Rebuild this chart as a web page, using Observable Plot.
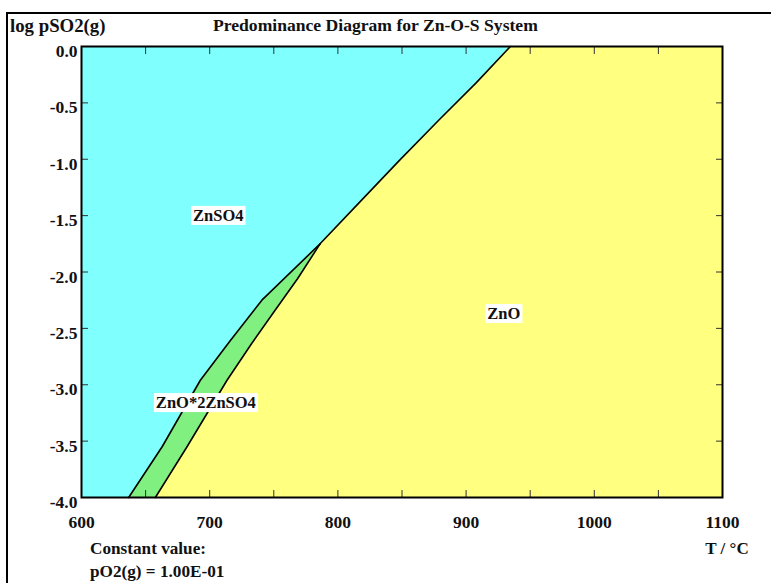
<!DOCTYPE html>
<html><head><meta charset="utf-8">
<script src="https://cdn.jsdelivr.net/npm/d3@7"></script>
<script src="https://cdn.jsdelivr.net/npm/@observablehq/plot@0.6"></script>
<style>
body{margin:0;background:#fff;}
#wrap{position:relative;width:771px;height:583px;overflow:hidden;font-family:"Liberation Serif","Times New Roman",serif;font-weight:bold;font-size:17px;color:#111;}
#border{position:absolute;left:6px;top:12px;width:900px;height:700px;border-top:2px solid #000;border-left:2px solid #000;}
.t{position:absolute;white-space:nowrap;line-height:1;}
#chart{position:absolute;left:0;top:0;}
</style></head><body>
<div id="wrap">
<div id="border"></div>
<div id="chart"></div>
<div class="t" style="left:213px;top:17px;font-size:17.6px">Predominance Diagram for Zn-O-S System</div>
<div class="t" style="left:10px;top:17px;font-size:18.8px">log pSO2(g)</div>
<div class="t" style="left:90px;top:540px;font-size:17.2px">Constant value:</div>
<div class="t" style="left:90px;top:563px;font-size:17.2px">pO2(g) = 1.00E-01</div>
<div class="t" style="left:727px;top:540px;transform:translateX(-50%)">T / °C</div>
</div>
<script>
// Axis domains and ticks
const xDomain = [600, 1100];
const yDomain = [-4, 0];
const xMajorTicks = [600, 700, 800, 900, 1000, 1100];
const xMinorTicks = [600, 650, 700, 750, 800, 850, 900, 950, 1000, 1050, 1100];
const yTicks = [0, -0.5, -1, -1.5, -2, -2.5, -3, -3.5, -4];

// Boundary ZnSO4 / ZnO*2ZnSO4
const T_upper = [636.8, 662.9, 692.7, 716.0, 740.7, 786.1];
const L_upper = [-4.0, -3.55, -2.96, -2.61, -2.25, -1.75];
// Boundary ZnO*2ZnSO4 / ZnO
const T_lower = [657.6, 682.3, 713.5, 733.0, 751.0, 768.5, 786.1];
const L_lower = [-4.0, -3.55, -2.96, -2.63, -2.34, -2.06, -1.75];
// Boundary ZnSO4 / ZnO
const T_main = [786.1, 817.0, 848.0, 879.0, 908.0, 934.5];
const L_main = [-1.75, -1.38, -1.01, -0.65, -0.32, 0.0];

// Region labels
const labelText = ["ZnSO4", "ZnO", "ZnO*2ZnSO4"];
const labelT = [706.7, 929.4, 697.0];
const labelL = [-1.50, -2.37, -3.16];

const colors = {ZnSO4: "#80FFFF", ZnO: "#FFFF80", mixed: "#80F080"};

const pts = (T, L) => T.map((t, i) => ({T: t, L: L[i]}));
const upper = pts(T_upper, L_upper);
const lower = pts(T_lower, L_lower);
const main = pts(T_main, L_main);
const yellowEdge = lower.concat(main.slice(1));
const labels = labelText.map((s, i) => ({s, T: labelT[i], L: labelL[i]}));

const tickStyle = {stroke: "#333", strokeWidth: 1, fill: "none", label: null};

const chart = Plot.plot({
  width: 771, height: 583,
  marginLeft: 81, marginRight: 49, marginTop: 46, marginBottom: 86,
  style: {fontFamily: "'Liberation Serif', 'Times New Roman', serif", fontSize: "17.5px", fontWeight: "bold", color: "#111", background: "transparent"},
  x: {domain: xDomain},
  y: {domain: yDomain},
  marks: [
    Plot.frame({fill: colors.ZnSO4}),
    Plot.areaX(upper, {y: "L", x1: "T", x2: xDomain[1], fill: colors.mixed}),
    Plot.areaX(yellowEdge, {y: "L", x1: "T", x2: xDomain[1], fill: colors.ZnO}),
    Plot.line(upper, {x: "T", y: "L", stroke: "#000", strokeWidth: 1.6}),
    Plot.line(lower, {x: "T", y: "L", stroke: "#000", strokeWidth: 1.6}),
    Plot.line(main, {x: "T", y: "L", stroke: "#000", strokeWidth: 1.6}),
    Plot.axisX(xMinorTicks, {anchor: "bottom", tickSize: -7, ...tickStyle}),
    Plot.axisX(xMinorTicks, {anchor: "top", tickSize: -7, ...tickStyle}),
    Plot.axisY(yTicks, {anchor: "left", tickSize: -7, ...tickStyle}),
    Plot.axisY(yTicks, {anchor: "right", tickSize: -7, ...tickStyle}),
    Plot.axisX(xMajorTicks, {anchor: "bottom", tickSize: 0, tickPadding: 18, tickFormat: d => String(d), label: null, fill: "#111"}),
    Plot.axisY(yTicks, {anchor: "left", tickSize: 0, tickPadding: 4, dy: 5, tickFormat: d => d.toFixed(1), label: null, fill: "#111"}),
    Plot.frame({stroke: "#000", strokeWidth: 2}),
    Plot.text(labels, {x: "T", y: "L", text: "s", fill: "#111", fontSize: 16.5, fontWeight: "bold"})
  ]
});
document.getElementById("chart").appendChild(chart);

// white background boxes behind region labels
const svgNS = "http://www.w3.org/2000/svg";
chart.querySelectorAll('g[aria-label="text"] text').forEach(t => {
  const b = t.getBBox();
  const r = document.createElementNS(svgNS, "rect");
  r.setAttribute("x", b.x - 2);
  r.setAttribute("y", b.y);
  r.setAttribute("width", b.width + 4);
  r.setAttribute("height", b.height);
  r.setAttribute("fill", "#fff");
  const tr = t.getAttribute("transform");
  if (tr) r.setAttribute("transform", tr);
  t.parentNode.insertBefore(r, t);
});
</script>
</body></html>
